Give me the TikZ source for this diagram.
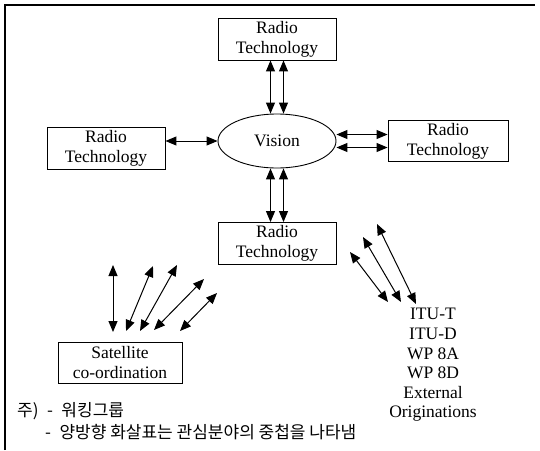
\documentclass[tikz,border=0pt]{standalone}
\usepackage{fontspec}
\setmainfont{Liberation Serif}
\newfontfamily\korfont{Noto Sans CJK KR}
\usetikzlibrary{arrows.meta,shapes.geometric}

\begin{document}
\begin{tikzpicture}[x=1pt,y=-1pt,
  tbox/.style={draw,line width=0.9pt,minimum width=118pt,minimum height=42pt,inner sep=1pt,align=center,font=\fontsize{17.5}{20}\selectfont},
  biarrow/.style={{Triangle[length=11pt,width=9pt]}-{Triangle[length=11pt,width=9pt]},line width=1pt}]
\useasboundingbox (0,0) rectangle (540,450);
% Frame
\draw[line width=1.2pt] (5,450) -- (5,5) -- (535,5);
% Boxes
\node[tbox] (rtop) at (277,39) {Radio\\Technology};
\node[draw,ellipse,line width=0.9pt,minimum width=118pt,minimum height=54pt,inner sep=0pt,font=\fontsize{17.5}{20}\selectfont] (vision) at (277,141) {Vision};
\node[tbox] (rleft) at (106,148) {Radio\\Technology};
\node[tbox,minimum width=120pt,minimum height=41pt] (rright) at (448,141) {Radio\\Technology};
\node[tbox] (rbot) at (277,243.5) {Radio\\Technology};
\node[tbox,minimum width=124pt,minimum height=41pt] (sat) at (120,362.5) {Satellite\\co-ordination};
% Groups
\node[align=center,font=\fontsize{17.5}{19.6}\selectfont] (itu) at (433,365) {ITU-T\\ITU-D\\WP 8A\\WP 8D\\External\\Originations};
% Arrows around Vision
\draw[biarrow] ([xshift=-6.5pt]rtop.south) -- ([xshift=-6.5pt]vision.north);
\draw[biarrow] ([xshift=6.5pt]rtop.south) -- ([xshift=6.5pt]vision.north);
\draw[biarrow] ([xshift=-6.5pt]rbot.north) -- ([xshift=-6.5pt]vision.south);
\draw[biarrow] ([xshift=6.5pt]rbot.north) -- ([xshift=6.5pt]vision.south);
\draw[biarrow] (rleft.east |- vision.west) -- (vision.west);
\draw[biarrow] ([yshift=6.5pt]vision.east) -- ([yshift=6.5pt]vision.east -| rright.west);
\draw[biarrow] ([yshift=-6.5pt]vision.east) -- ([yshift=-6.5pt]vision.east -| rright.west);
% Overlap arrows
\foreach \i/\ax/\ay/\bx/\by in {1/113/265/113/332, 2/153/266/126/331, 3/177/265/140/331, 4/204/279/154/330, 5/217/293/180/331}{
  \coordinate (s\i a) at (\ax,\ay);
  \coordinate (s\i b) at (\bx,\by);
  \draw[biarrow] (s\i a) -- (s\i b);
}
\foreach \i/\ax/\ay/\bx/\by in {1/350/252/388/302, 2/363/237/401/302, 3/377/224/416/304}{
  \coordinate (e\i a) at (\ax,\ay);
  \coordinate (e\i b) at (\bx,\by);
  \draw[biarrow] (e\i a) -- (e\i b);
}
% Notes
\node[anchor=west,inner sep=0pt,font=\korfont\fontsize{17}{20}\selectfont] (note1) at (17,411) {주)\enspace{}-\enspace{}워킹그룹};
\node[anchor=west,inner sep=0pt,font=\korfont\fontsize{17}{20}\selectfont] (note2) at (45,432) {-\enspace{}양방향 화살표는 관심분야의 중첩을 나타냄};
\end{tikzpicture}
\end{document}
